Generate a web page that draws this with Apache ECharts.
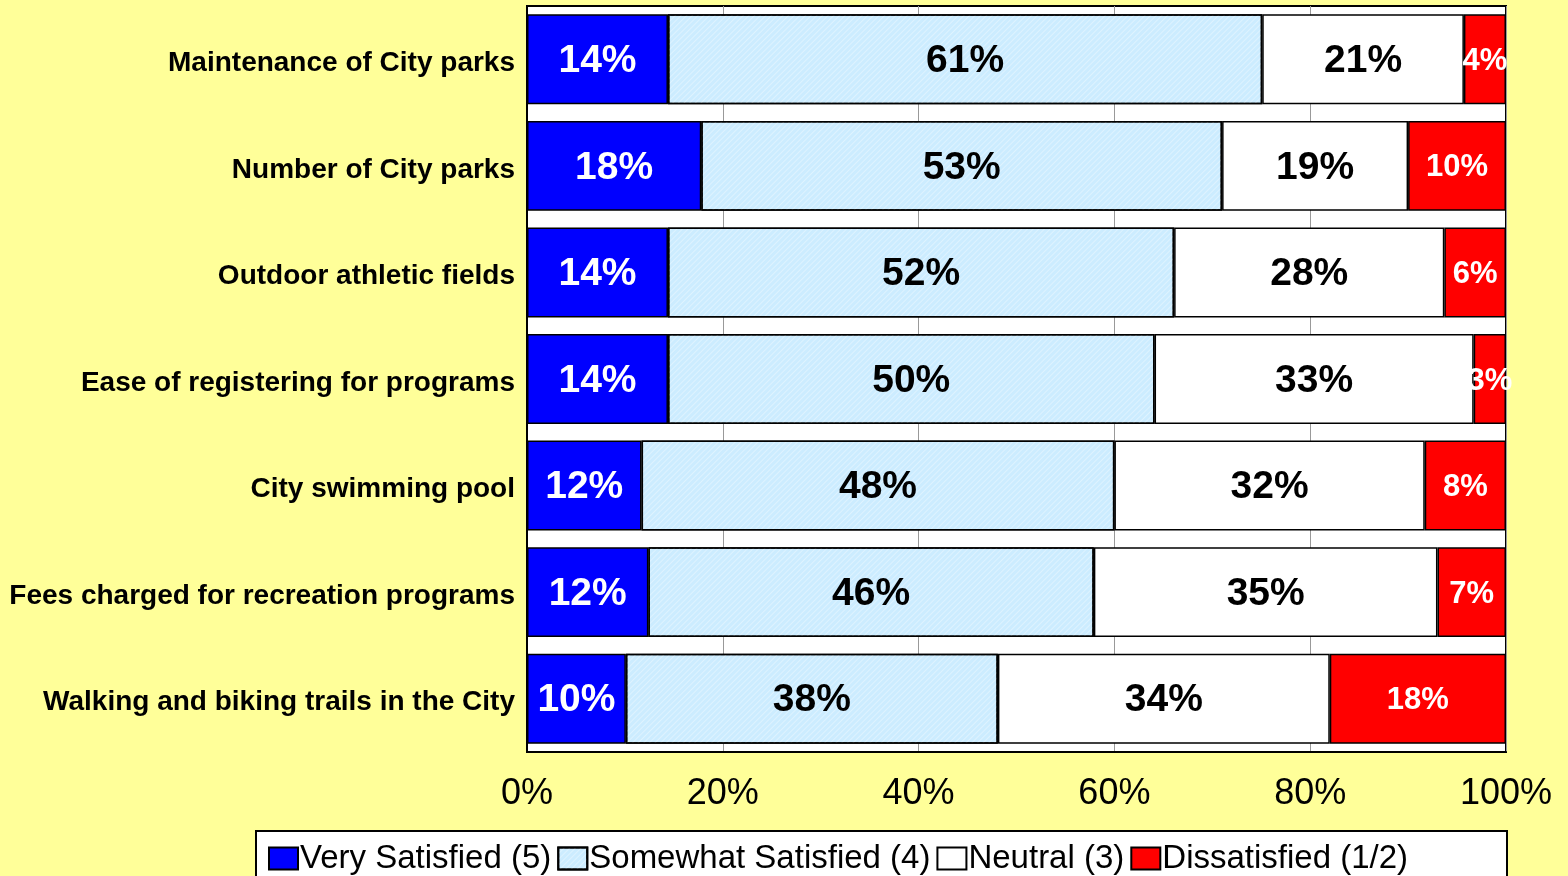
<!DOCTYPE html>
<html>
<head>
<meta charset="utf-8">
<script src="https://cdn.jsdelivr.net/npm/echarts@6/dist/echarts.min.js"></script>
<style>
  html, body { margin: 0; padding: 0; background: #ffff99; }
  #chart { width: 1568px; height: 876px; }
</style>
</head>
<body>
<div id="chart"></div>
<script>
  // survey items, top to bottom
  const categories = [
    'Maintenance of City parks',
    'Number of City parks',
    'Outdoor athletic fields',
    'Ease of registering for programs',
    'City swimming pool',
    'Fees charged for recreation programs',
    'Walking and biking trails in the City'
  ];
  const verySatisfied = [14.4, 17.8, 14.4, 14.4, 11.7, 12.4, 10.1];
  const somewhatSatisfied = [60.7, 53.2, 51.7, 49.7, 48.3, 45.5, 38.0];
  const neutral = [20.6, 19.0, 27.6, 32.6, 31.7, 35.1, 33.9];
  const dissatisfied = [4.3, 10.0, 6.3, 3.3, 8.3, 7.0, 18.0];
  const xTicks = [0, 20, 40, 60, 80, 100];

  const font = 'Liberation Sans, Arial, sans-serif';
  const chart = echarts.init(document.getElementById('chart'));

  const pct = p => Math.round(p.value) + '%';

  function bar(name, data, color, labelColor, labelSize, decal) {
    return {
      name: name,
      type: 'bar',
      stack: 'total',
      data: data,
      barCategoryGap: '15.6%',
      itemStyle: { color: color, borderColor: '#000', borderWidth: 1.5, decal: decal },
      label: {
        show: true,
        position: 'inside',
        offset: [0, 2],
        formatter: pct,
        color: labelColor,
        fontFamily: font,
        fontWeight: 'bold',
        fontSize: labelSize
      },
      emphasis: { disabled: true }
    };
  }

  const option = {
    backgroundColor: '#ffff99',
    animation: false,
    grid: {
      left: 527,
      right: 62,
      top: 6,
      bottom: 124,
      show: true,
      backgroundColor: '#fff',
      borderColor: '#000',
      borderWidth: 2
    },
    xAxis: {
      type: 'value',
      min: xTicks[0],
      max: xTicks[xTicks.length - 1],
      interval: xTicks[1] - xTicks[0],
      axisLine: { show: true, lineStyle: { color: '#000', width: 2 } },
      axisTick: { show: false },
      splitLine: { show: true, lineStyle: { color: '#999', width: 1 } },
      axisLabel: {
        formatter: '{value}%',
        color: '#000',
        fontFamily: font,
        fontSize: 36,
        margin: 24
      }
    },
    yAxis: {
      type: 'category',
      data: categories,
      inverse: true,
      axisLine: { show: true, lineStyle: { color: '#000', width: 2 } },
      axisTick: { show: false },
      axisLabel: {
        margin: 12,
        formatter: v => '{c|' + v + '}',
        rich: {
          c: {
            color: '#000',
            fontFamily: font,
            fontWeight: 'bold',
            fontSize: 28,
            padding: [8, 0, 0, 0]
          }
        }
      }
    },
    legend: {
      left: 263,
      top: 837,
      icon: 'rect',
      itemWidth: 29,
      itemHeight: 22,
      itemGap: 6,
      selectedMode: false,
      textStyle: {
        color: '#000',
        fontFamily: font,
        fontSize: 33,
        padding: [0, 0, 0, -3]
      }
    },
    graphic: [{
      type: 'rect',
      z: -1,
      shape: { x: 256, y: 831, width: 1251, height: 60 },
      style: { fill: '#fff', stroke: '#000', lineWidth: 2 }
    }],
    series: [
      bar('Very Satisfied (5)', verySatisfied, '#0000ff', '#fff', 39),
      bar('Somewhat Satisfied (4)', somewhatSatisfied, '#ccecff', '#000', 39, {
        symbol: 'rect',
        dashArrayX: [1, 0],
        dashArrayY: [1, 3],
        rotation: -Math.PI / 4,
        color: 'rgba(255,255,255,0.35)'
      }),
      bar('Neutral (3)', neutral, '#fff', '#000', 39),
      bar('Dissatisfied (1/2)', dissatisfied, '#ff0000', '#fff', 31)
    ]
  };

  chart.setOption(option);
</script>
</body>
</html>
